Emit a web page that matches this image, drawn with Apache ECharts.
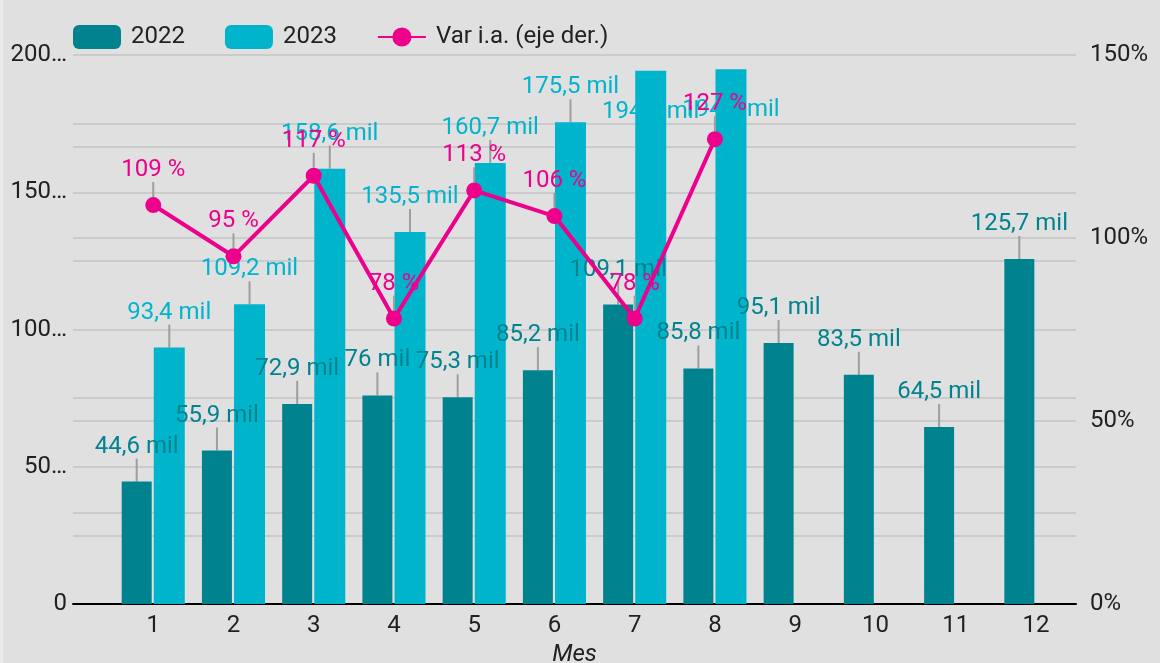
<!DOCTYPE html>
<html>
<head>
<meta charset="utf-8">
<script src="https://cdn.jsdelivr.net/npm/echarts@6/dist/echarts.min.js"></script>
<style>
html, body { margin: 0; padding: 0; }
#chart {
    width: 1160px;
    height: 663px;
    background: linear-gradient(to right, #ebebeb 3px, #e0e0e0 3px);
}
</style>
</head>
<body>
<div id="chart"></div>
<script>
// datos
const meses = [1, 2, 3, 4, 5, 6, 7, 8, 9, 10, 11, 12]
const v2022 = [44.6, 55.9, 72.9, 76, 75.3, 85.2, 109.1, 85.8, 95.1, 83.5, 64.5, 125.7]
const v2023 = [93.4, 109.2, 158.6, 135.5, 160.7, 175.5, 194.3, 194.8]
const varIA = [109, 95, 117, 78, 113, 106, 78, 127]
const ticksIzq = { 0: '0', 50: '50…', 100: '100…', 150: '150…', 200: '200…' }

const C2022 = '#00838f'
const C2023 = '#00b4cc'
const CVAR = '#ec008c'

const fmtMil = v => String(v).replace('.', ',') + ' mil'
const pares = arr => arr.map((v, i) => [meses[i], v])

const chart = echarts.init(document.getElementById('chart'))

const labelBase = {
    show: true,
    position: 'top',
    fontFamily: 'Roboto',
    fontSize: 24
}
const guia = { show: true, lineStyle: { color: '#9e9e9e', width: 2 } }

const option = {
    backgroundColor: 'transparent',
    textStyle: { fontFamily: 'Roboto' },
    legend: {
        left: 68,
        top: 20,
        itemWidth: 48,
        itemHeight: 24,
        itemGap: 40,
        textStyle: { fontSize: 24, color: '#212121', padding: [0, 0, 0, 5] },
        data: ['2022', '2023', 'Var i.a. (eje der.)']
    },
    grid: { left: 73, right: 84, top: 55, bottom: 59, outerBoundsMode: 'none', containLabel: false },
    xAxis: {
        type: 'value',
        min: 0,
        max: 12.5,
        interval: 1,
        name: 'Mes',
        nameLocation: 'middle',
        nameGap: 38,
        nameTextStyle: { fontStyle: 'italic', fontSize: 24, color: '#212121' },
        axisLine: { show: true, onZero: false, lineStyle: { color: '#000', width: 2 } },
        axisTick: { show: false },
        splitLine: { show: false },
        axisLabel: {
            fontSize: 24,
            color: '#212121',
            margin: 10,
            showMinLabel: false,
            formatter: v => (Number.isInteger(v) && v >= 1 && v <= 12) ? String(v) : ''
        }
    },
    yAxis: [
        {
            type: 'value',
            min: 0,
            max: 200,
            interval: 50,
            axisLine: { show: false },
            axisTick: { show: false },
            axisLabel: { fontSize: 24, color: '#212121', margin: 6, formatter: v => ticksIzq[v] },
            splitLine: { lineStyle: { color: '#cbcbcb', width: 2 } },
            minorTick: { show: false, splitNumber: 2 },
            minorSplitLine: { show: true, lineStyle: { color: '#cbcbcb', width: 2 } }
        },
        {
            type: 'value',
            min: 0,
            max: 150,
            interval: 50,
            position: 'right',
            axisLine: { show: false },
            axisTick: { show: false },
            axisLabel: { fontSize: 24, color: '#212121', margin: 14, formatter: '{value}%' },
            splitLine: { lineStyle: { color: '#cbcbcb', width: 2 } },
            minorTick: { show: false, splitNumber: 2 },
            minorSplitLine: { show: true, lineStyle: { color: '#cbcbcb', width: 2 } }
        }
    ],
    series: [
        {
            name: '2022',
            type: 'bar',
            barWidth: 30,
            barGap: '7%',
            itemStyle: { color: C2022 },
            data: pares(v2022),
            label: { ...labelBase, color: C2022, formatter: p => fmtMil(p.value[1]) },
            labelLine: guia,
            labelLayout: { dy: -18 }
        },
        {
            name: '2023',
            type: 'bar',
            barWidth: 31,
            itemStyle: { color: C2023 },
            data: pares(v2023),
            label: { ...labelBase, color: C2023, formatter: p => fmtMil(p.value[1]) },
            labelLine: guia,
            // las etiquetas que no caben arriba bajan dentro de la barra
            labelLayout: p => ({ dy: v2023[p.dataIndex] > 190 ? 58 : -18 })
        },
        {
            name: 'Var i.a. (eje der.)',
            type: 'line',
            yAxisIndex: 1,
            symbol: 'circle',
            symbolSize: 16,
            z: 5,
            lineStyle: { color: CVAR, width: 4 },
            itemStyle: { color: CVAR },
            data: pares(varIA),
            label: { ...labelBase, color: CVAR, formatter: p => p.value[1] + ' %' },
            labelLine: guia,
            labelLayout: { dy: -10 }
        }
    ]
}

chart.setOption(option)
</script>
</body>
</html>
